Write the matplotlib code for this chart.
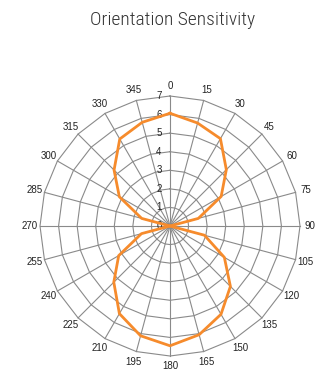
import numpy as np
import matplotlib
matplotlib.use("Agg")
import matplotlib.pyplot as plt

angles_deg = [0, 15, 30, 45, 60, 75, 90, 105, 120, 135, 150, 165,
              180, 195, 210, 225, 240, 255, 270, 285, 300, 315, 330, 345]
values = [6.07, 5.74, 5.43, 4.29, 3.18, 1.58, 0.0, 1.92, 3.38, 4.6, 5.49, 6.06,
          6.45, 6.12, 5.45, 4.28, 3.19, 1.59, 0.0, 1.58, 3.15, 4.26, 5.41, 5.78]
r_ticks = [0, 1, 2, 3, 4, 5, 6, 7]
title = "Orientation Sensitivity"

W, H = 317, 370
fig = plt.figure(figsize=(W / 100, H / 100), dpi=100)
cx, cy, R = 170, 226, 130
ax = fig.add_axes([(cx - R) / W, (H - cy - R) / H, 2 * R / W, 2 * R / H], projection="polar")
ax.set_theta_zero_location("N")
ax.set_theta_direction(-1)
ax.set_ylim(0, 7)

grid_c = "#8a8a8a"
th_closed = np.deg2rad(angles_deg + [angles_deg[0]])

# polygonal (radar-style) grid
for r in r_ticks[1:]:
    ax.plot(th_closed, [r] * len(th_closed), color=grid_c, lw=0.8,
            zorder=1, clip_on=False)
for a in angles_deg:
    ax.plot([np.deg2rad(a)] * 2, [0, r_ticks[-1]], color=grid_c, lw=0.8,
            zorder=1, clip_on=False)
ax.grid(False)
ax.spines["polar"].set_visible(False)
ax.set_facecolor("none")

vals = values + [values[0]]
ax.plot(th_closed, vals, color="#F68B2C", lw=2.0, zorder=5)

ax.set_xticks(np.deg2rad(angles_deg))
ax.set_xticklabels([str(a) for a in angles_deg], fontsize=7, color="#222222",
                   family="Liberation Sans")
ax.tick_params(axis="x", pad=-3)
ax.set_yticks([])
ax.set_ylim(0, 7)

for r in r_ticks:
    ax.annotate(str(r), xy=(0, r), xytext=(-6, 0), textcoords="offset points",
                ha="right", va="center", fontsize=7, color="#222222",
                family="Liberation Sans", annotation_clip=False)

fig.text(173 / W, 1 - 20 / H, title, ha="center", va="center",
         fontsize=14, color="#333333", weight="light",
         family=["Roboto Condensed", "Barlow Semi Condensed", "DejaVu Sans"])

fig.savefig("out.png", dpi=100)
